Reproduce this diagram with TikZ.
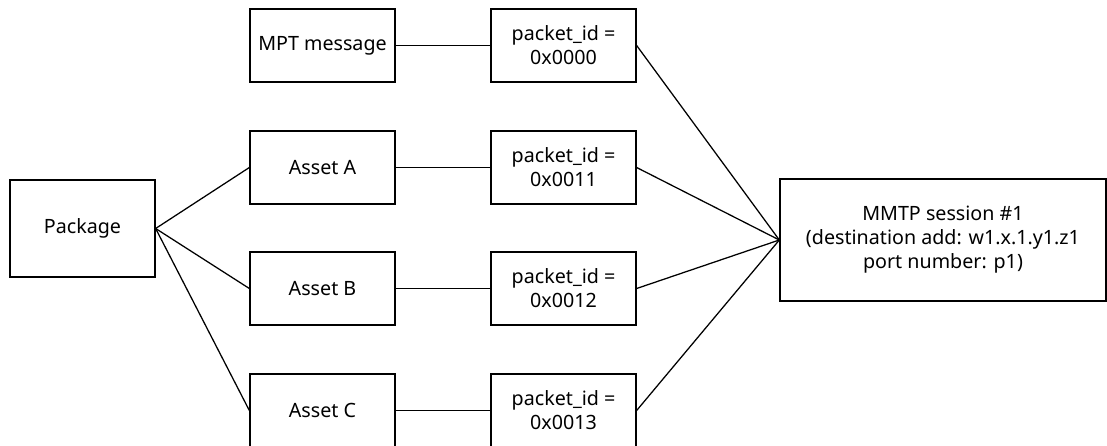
\documentclass[tikz,border=0pt]{standalone}
\usepackage{fontspec}
\setmainfont{Noto Sans}
\usepackage{tikz}

\begin{document}
\begin{tikzpicture}[x=0.025cm, y=-0.025cm]
      \clip (0,0) rectangle (1107,446);
      \useasboundingbox (0,0) rectangle (1107,446);

      \begin{scope}[every node/.style={rectangle, draw, line width=0.9pt, align=center, inner sep=2pt,
          minimum width=3.625cm, minimum height=1.825cm, font=\fontsize{14}{17}\selectfont}]
        \node[minimum height=2.425cm] (pkg) at (82.5,228.5) {Package};
        \node (mpt) at (322.5,45.5) {MPT message};
        \node (a) at (322.5,167.5) {Asset A};
        \node (b) at (322.5,288.5) {Asset B};
        \node (c) at (322.5,410.5) {Asset C};
        \node (p0) at (563.5,45.5) {packet\_id =\\0x0000};
        \node (p1) at (563.5,167.5) {packet\_id =\\0x0011};
        \node (p2) at (563.5,288.5) {packet\_id =\\0x0012};
        \node (p3) at (563.5,410.5) {packet\_id =\\0x0013};
        \node[minimum width=8.15cm, minimum height=3.05cm] (mmtp) at (943,240)
          {MMTP session \#1\\(destination add: w1.x.1.y1.z1\\port number: p1)};
      \end{scope}

      \begin{scope}[line width=0.9pt]
        \draw (pkg.east) -- (a.west);
        \draw (pkg.east) -- (b.west);
        \draw (pkg.east) -- (c.west);
        \draw (mpt) -- (p0);
        \draw (a) -- (p1);
        \draw (b) -- (p2);
        \draw (c) -- (p3);
        \draw (p0.east) -- (mmtp.west);
        \draw (p1.east) -- (mmtp.west);
        \draw (p2.east) -- (mmtp.west);
        \draw (p3.east) -- (mmtp.west);
      \end{scope}
   \end{tikzpicture}
\end{document}
